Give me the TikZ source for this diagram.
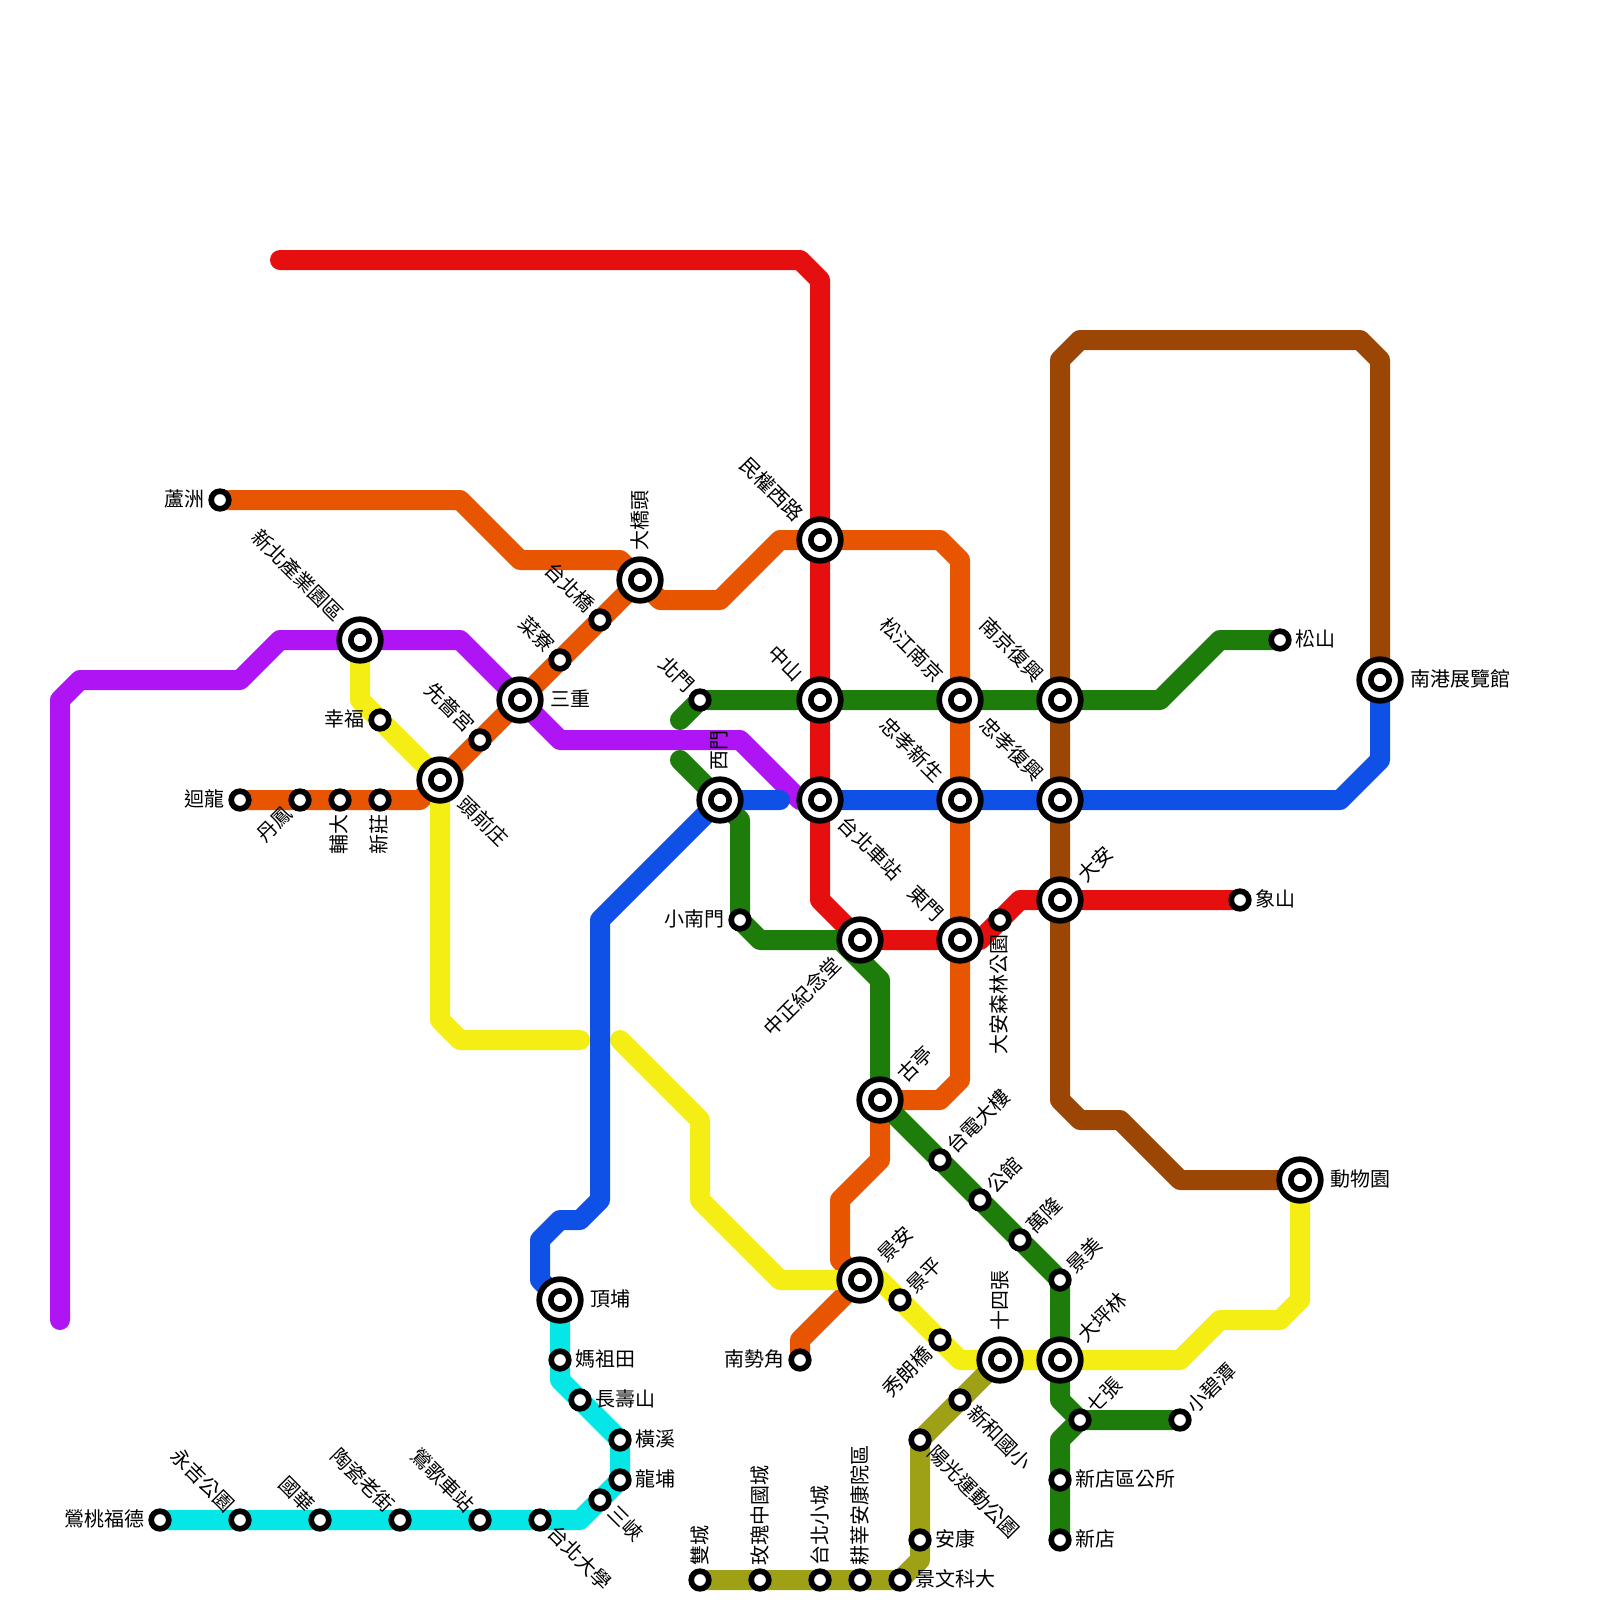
\documentclass[tikz,border=0pt]{standalone}
\usepackage{fontspec}
\setmainfont{Noto Sans CJK TC}
\usetikzlibrary{backgrounds}
\definecolor{lred}{HTML}{E60F0F}
\definecolor{lorange}{HTML}{E85500}
\definecolor{lpurple}{HTML}{AF14F5}
\definecolor{lyellow}{HTML}{F5EE14}
\definecolor{lblue}{HTML}{0F50E6}
\definecolor{lcyan}{HTML}{05E6E6}
\definecolor{lgreen}{HTML}{1E7D0A}
\definecolor{lbrown}{HTML}{9B4605}
\definecolor{lolive}{HTML}{9EA016}
\tikzset{
  sta/.style={circle, draw=black, fill=white, line width=1.42mm, minimum size=4.4mm,
              inner sep=0pt, outer sep=0pt},
  hub/.style={sta, minimum size=10.4mm, outer sep=.8mm, path picture={
              \draw[black, line width=1.42mm] (path picture bounding box.center) circle (2.29mm);}},
  ln/.style={line width=5mm, line cap=round, line join=round},
  lbl/.style={font=\fontsize{14.2}{16}\selectfont, inner sep=0pt, text=black},
  tE/.style={label={[lbl, anchor=west, yshift=.35mm]0:#1}},
  tW/.style={label={[lbl, anchor=east, yshift=.35mm]180:#1}},
  tN/.style={label={[lbl, rotate=90, anchor=west, xshift=1.4mm, yshift=-1.5mm]90:#1}},
  tS/.style={label={[lbl, rotate=90, anchor=east, xshift=-1.3mm, yshift=1.8mm]270:#1}},
  tNE/.style={label={[lbl, rotate=45, anchor=west, xshift=.3mm, yshift=-1mm]45:#1}},
  tSW/.style={label={[lbl, rotate=45, anchor=east, xshift=-.5mm, yshift=1.35mm]225:#1}},
  tNW/.style={label={[lbl, rotate=-45, anchor=east, xshift=-.25mm, yshift=-.7mm]135:#1}},
  tSE/.style={label={[lbl, rotate=-45, anchor=west, xshift=.3mm, yshift=1.5mm]315:#1}},
}
\begin{document}
\begin{tikzpicture}[x=1cm, y=-1cm, label distance=1.6mm]
\useasboundingbox (0,0) rectangle (40,40);

% --- INTERCHANGES ---
\node[hub, tN=大橋頭] (daqiao) at (16,14.5) {};
\node[hub, tNW=新北產業園區] (chanye) at (9,16) {};
\node[hub, tE=三重] (sanchong) at (13,17.5) {};
\node[hub, tSE=頭前庄] (touqian) at (11,19.5) {};
\node[hub, tNW=民權西路] (minquan) at (20.5,13.5) {};
\node[hub, tNW=中山] (zhongshan) at (20.5,17.5) {};
\node[hub, tNW=松江南京] (songjiang) at (24,17.5) {};
\node[hub, tNW=南京復興] (nanjing) at (26.5,17.5) {};
\node[hub, tN=西門] (ximen) at (18,20) {};
\node[hub, tSE=台北車站] (taipei) at (20.5,20) {};
\node[hub, tNW=忠孝新生] (xinsheng) at (24,20) {};
\node[hub, tNW=忠孝復興] (fuxing) at (26.5,20) {};
\node[hub, tNE=大安] (daan) at (26.5,22.5) {};
\node[hub, tSW=中正紀念堂] (zhongzheng) at (21.5,23.5) {};
\node[hub, tNW=東門] (dongmen) at (24,23.5) {};
\node[hub, tNE=古亭] (guting) at (22,27.5) {};
\node[hub, tNE=景安] (jingan) at (21.5,32) {};
\node[hub, tN=十四張] (shisi) at (25,34) {};
\node[hub, tNE=大坪林] (dapinglin) at (26.5,34) {};
\node[hub, tE=南港展覽館] (nangang) at (34.5,17) {};
\node[hub, tE=動物園] (zoo) at (32.5,29.5) {};
\node[hub, tE=頂埔] (dingpu) at (14,32.5) {};

% --- STATIONS, NORTH WEST ---
\node[sta, tW=蘆洲] (luzhou) at (5.5,12.5) {};
\node[sta, tW=幸福] (xingfu) at (9.5,18) {};
\node[sta, tW=迴龍] (huilong) at (6,20) {};
\node[sta, tSW=丹鳳] (danfeng) at (7.5,20) {};
\node[sta, tS=輔大] (fuda) at (8.5,20) {};
\node[sta, tS=新莊] (xinzhuang) at (9.5,20) {};
\node[sta, tNW=先嗇宮] (xianse) at (12,18.5) {};
\node[sta, tNW=菜寮] (cailiao) at (14,16.5) {};
\node[sta, tNW=台北橋] (taibei) at (15,15.5) {};

% --- STATIONS, CENTRE AND EAST ---
\node[sta, tNW=北門] (beimen) at (17.5,17.5) {};
\node[sta, tW=小南門] (xiaonan) at (18.5,23) {};
\node[sta, tS=大安森林公園] (senlin) at (25,23) {};
\node[sta, tE=象山] (xiangshan) at (31,22.5) {};
\node[sta, tE=松山] (songshan) at (32,16) {};
\node[sta, tNE=台電大樓] (taidian) at (23.5,29) {};
\node[sta, tNE=公館] (gongguan) at (24.5,30) {};
\node[sta, tNE=萬隆] (wanlong) at (25.5,31) {};
\node[sta, tNE=景美] (jingmei) at (26.5,32) {};
\node[sta, tNE=七張] (qizhang) at (27,35.5) {};
\node[sta, tNE=小碧潭] (bitan) at (29.5,35.5) {};
\node[sta, tE=新店區公所] (xindianqu) at (26.5,37) {};
\node[sta, tE=新店] (xindian) at (26.5,38.5) {};

% --- STATIONS, SOUTH ---
\node[sta, tW=南勢角] (nanshi) at (20,34) {};
\node[sta, tNE=景平] (jingping) at (22.5,32.5) {};
\node[sta, tSW=秀朗橋] (xiulang) at (23.5,33.5) {};
\node[sta, tSE=新和國小] (xinhe) at (24,35) {};
\node[sta, tSE=陽光運動公園] (yangguang) at (23,36) {};
\node[sta, tE=安康] (ankang) at (23,38.5) {};
\node[sta, tE=景文科大] (wenke) at (22.5,39.5) {};
\node[sta, tN=耕莘安康院區] (gengxin) at (21.5,39.5) {};
\node[sta, tN=台北小城] (xiaocheng) at (20.5,39.5) {};
\node[sta, tN=玫瑰中國城] (meigui) at (19,39.5) {};
\node[sta, tN=雙城] (shuangcheng) at (17.5,39.5) {};

% --- STATIONS, SOUTH WEST ---
\node[sta, tE=媽祖田] (mazu) at (14,34) {};
\node[sta, tE=長壽山] (changshou) at (14.5,35) {};
\node[sta, tE=橫溪] (hengxi) at (15.5,36) {};
\node[sta, tE=龍埔] (longpu) at (15.5,37) {};
\node[sta, tSE=三峽] (sanxia) at (15,37.5) {};
\node[sta, tSE=台北大學] (daxue) at (13.5,38) {};
\node[sta, tNW=鶯歌車站] (yingge) at (12,38) {};
\node[sta, tNW=陶瓷老街] (taoci) at (10,38) {};
\node[sta, tNW=國華] (guohua) at (8,38) {};
\node[sta, tNW=永吉公園] (yongji) at (6,38) {};
\node[sta, tW=鶯桃福德] (yingtao) at (4,38) {};

% --- BENDS ---
\coordinate (rS) at (7,6.5); \coordinate (rA) at (20,6.5); \coordinate (rB) at (20.5,7);
\coordinate (rC) at (20.5,22.5); \coordinate (rD) at (24.5,23.5); \coordinate (rE) at (25.5,22.5);
\coordinate (oA) at (11.5,12.5); \coordinate (oB) at (13,14); \coordinate (oC) at (15.5,14);
\coordinate (oD) at (16.5,15); \coordinate (oE) at (18,15); \coordinate (oF) at (19.5,13.5);
\coordinate (oG) at (23.5,13.5); \coordinate (oH) at (24,14); \coordinate (oI) at (24,27);
\coordinate (oJ) at (23.5,27.5); \coordinate (oK) at (22,29); \coordinate (oL) at (21,30);
\coordinate (oM) at (21,31.5); \coordinate (oN) at (20,33.5); \coordinate (oP) at (10.5,20);
\coordinate (pS) at (1.5,33); \coordinate (pA) at (1.5,17.5); \coordinate (pB) at (2,17);
\coordinate (pC) at (6,17); \coordinate (pD) at (7,16); \coordinate (pE) at (11.5,16);
\coordinate (pF) at (14,18.5); \coordinate (pG) at (18.5,18.5); \coordinate (pH) at (20,20);
\coordinate (gA) at (30.5,16); \coordinate (gB) at (29,17.5); \coordinate (gC) at (17,18);
\coordinate (gD) at (17,19); \coordinate (gE) at (18.5,20.5); \coordinate (gF) at (19,23.5);
\coordinate (gJ) at (21,23.5); \coordinate (gG) at (22,24.5); \coordinate (gH) at (26.5,35);
\coordinate (gI) at (26.5,36);
\coordinate (nA) at (29.5,29.5); \coordinate (nB) at (28,28); \coordinate (nC) at (27,28);
\coordinate (nD) at (26.5,27.5); \coordinate (nE) at (26.5,9); \coordinate (nF) at (27,8.5);
\coordinate (nG) at (34,8.5); \coordinate (nH) at (34.5,9);
\coordinate (yA) at (9,17.5); \coordinate (yB) at (11,25.5); \coordinate (yC) at (11.5,26);
\coordinate (yD) at (14.5,26); \coordinate (yE) at (15.5,26); \coordinate (yF) at (17.5,28);
\coordinate (yG) at (17.5,30); \coordinate (yH) at (19.5,32); \coordinate (yN) at (22,32);
\coordinate (yI) at (24,34);
\coordinate (yJ) at (29.5,34); \coordinate (yK) at (30.5,33); \coordinate (yL) at (32,33);
\coordinate (yM) at (32.5,32.5);
\coordinate (cA) at (14.5,38); \coordinate (cB) at (14,34.5); \coordinate (lA) at (23,39);
\coordinate (bA) at (13.5,32); \coordinate (bB) at (13.5,31); \coordinate (bC) at (14,30.5);
\coordinate (bD) at (14.5,30.5); \coordinate (bE) at (15,30); \coordinate (bF) at (15,23);
\coordinate (bG) at (19.5,20); \coordinate (bH) at (33.5,20); \coordinate (bI) at (34.5,19);

% --- LINES ---
\begin{scope}[on background layer]
\draw[ln, lpurple] (pS) -- (pA) -- (pB) -- (pC) -- (pD) -- (chanye.center) -- (pE)
  -- (sanchong.center) -- (pF) -- (pG) -- (pH) -- (taipei.center);
\draw[ln, lorange] (luzhou.center) -- (oA) -- (oB) -- (oC) -- (daqiao.center) -- (oD) -- (oE) -- (oF)
  -- (minquan.center) -- (oG) -- (oH) -- (songjiang.center) -- (xinsheng.center) -- (dongmen.center)
  -- (oI) -- (oJ) -- (guting.center) -- (oK) -- (oL) -- (oM) -- (jingan.center) -- (oN) -- (nanshi.center);
\draw[ln, lorange] (huilong.center) -- (danfeng.center) -- (fuda.center) -- (xinzhuang.center) -- (oP)
  -- (touqian.center) -- (xianse.center) -- (sanchong.center) -- (cailiao.center) -- (taibei.center)
  -- (daqiao.center);
\draw[ln, lred] (rS) -- (rA) -- (rB) -- (minquan.center) -- (zhongshan.center) -- (taipei.center) -- (rC)
  -- (zhongzheng.center) -- (dongmen.center) -- (rD) -- (senlin.center) -- (rE) -- (daan.center)
  -- (xiangshan.center);
\draw[ln, lgreen] (songshan.center) -- (gA) -- (gB) -- (nanjing.center) -- (songjiang.center)
  -- (zhongshan.center) -- (beimen.center) -- (gC);
\draw[ln, lgreen] (gD) -- (ximen.center) -- (gE) -- (xiaonan.center) -- (gF) -- (gJ) -- (gG)
  -- (guting.center) -- (taidian.center) -- (gongguan.center) -- (wanlong.center) -- (jingmei.center)
  -- (dapinglin.center) -- (gH) -- (qizhang.center) -- (bitan.center);
\draw[ln, lgreen] (qizhang.center) -- (gI) -- (xindianqu.center) -- (xindian.center);
\draw[ln, lbrown] (zoo.center) -- (nA) -- (nB) -- (nC) -- (nD) -- (daan.center) -- (fuxing.center)
  -- (nanjing.center) -- (nE) -- (nF) -- (nG) -- (nH) -- (nangang.center);
\draw[ln, lyellow] (chanye.center) -- (yA) -- (xingfu.center) -- (touqian.center) -- (yB) -- (yC) -- (yD);
\draw[ln, lyellow] (yE) -- (yF) -- (yG) -- (yH) -- (jingan.center) -- (yN) -- (jingping.center)
  -- (xiulang.center) -- (yI) -- (shisi.center) -- (dapinglin.center) -- (yJ) -- (yK) -- (yL) -- (yM)
  -- (zoo.center);
\draw[ln, lcyan] (yingtao.center) -- (yongji.center) -- (guohua.center) -- (taoci.center) -- (yingge.center)
  -- (daxue.center) -- (cA) -- (sanxia.center) -- (longpu.center) -- (hengxi.center) -- (changshou.center)
  -- (cB) -- (mazu.center) -- (dingpu.center);
\draw[ln, lolive] (shisi.center) -- (xinhe.center) -- (yangguang.center) -- (ankang.center) -- (lA)
  -- (wenke.center) -- (gengxin.center) -- (xiaocheng.center) -- (meigui.center) -- (shuangcheng.center);
\draw[ln, lblue] (dingpu.center) -- (bA) -- (bB) -- (bC) -- (bD) -- (bE) -- (bF) -- (ximen.center) -- (bG);
\draw[ln, lblue] (taipei.center) -- (xinsheng.center) -- (fuxing.center) -- (bH) -- (bI) -- (nangang.center);
\end{scope}

\end{tikzpicture}
\end{document}
